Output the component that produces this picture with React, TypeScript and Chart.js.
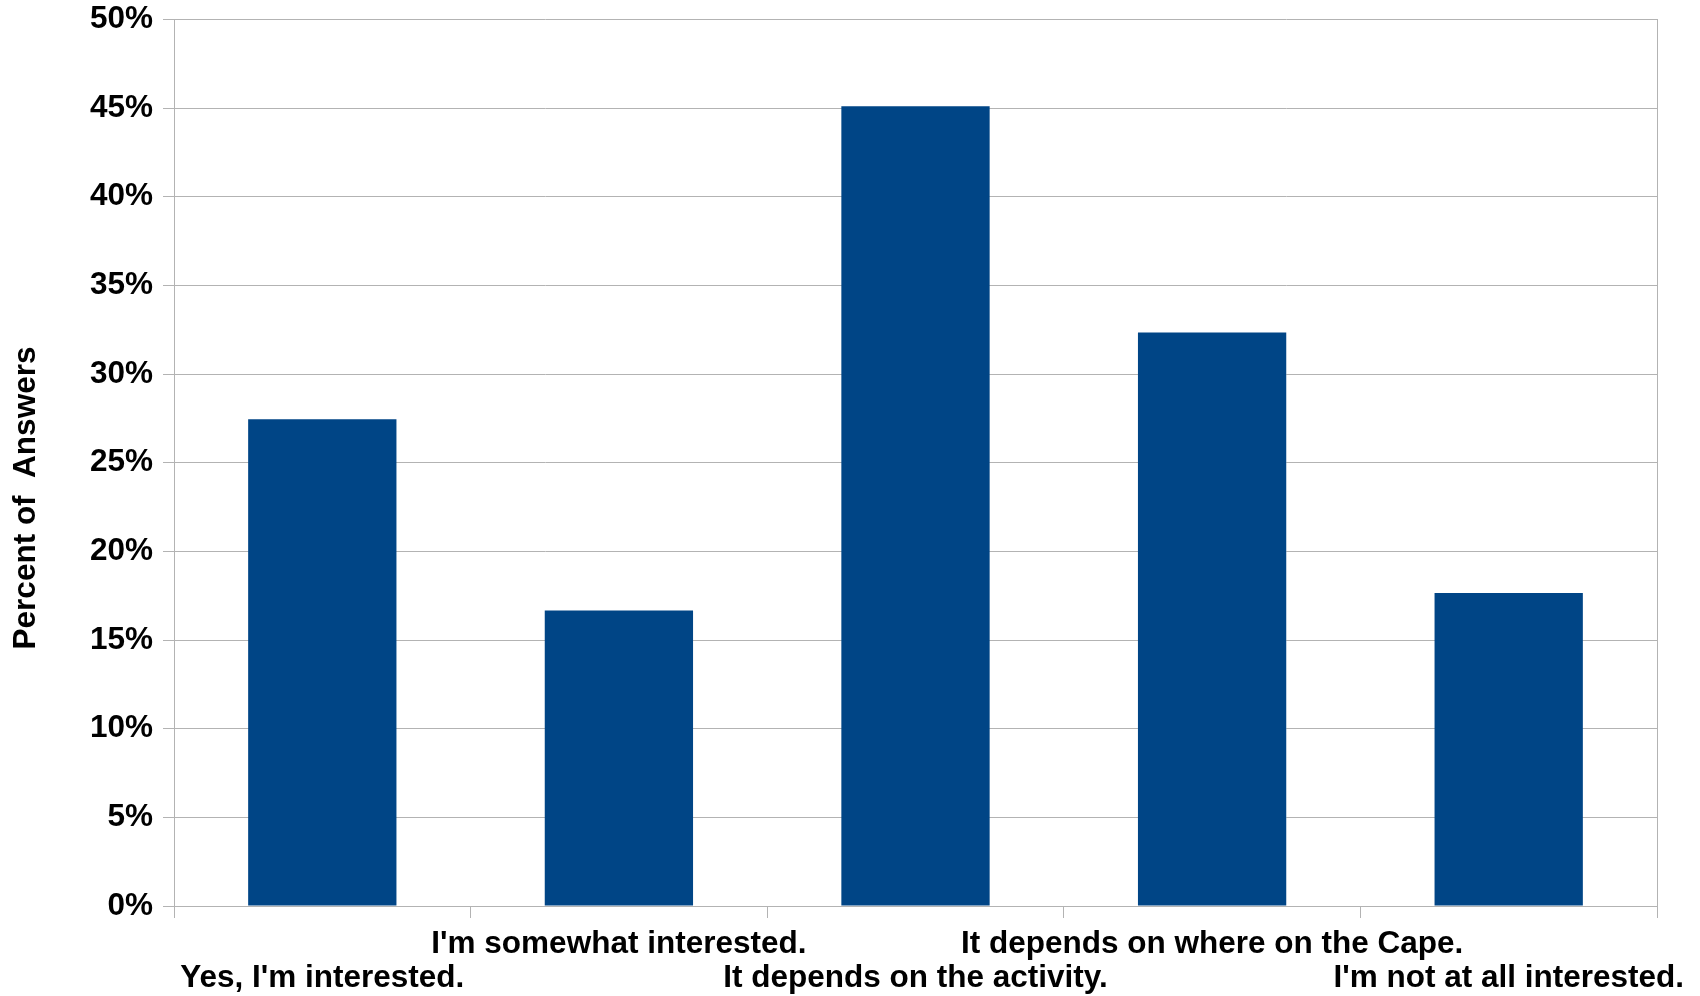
import { useEffect, useRef } from 'react';
import { Chart, registerables } from 'chart.js';

Chart.register(...registerables);

const categories = [
  "Yes, I'm interested.",
  "I'm somewhat interested.",
  "It depends on the activity.",
  "It depends on where on the Cape.",
  "I'm not at all interested.",
];
const percentOfAnswers = [27.45, 16.67, 45.1, 32.35, 17.65];
const yMin = 0;
const yMax = 50;
const yStep = 5;
const yAxisTitle = 'Percent of  Answers';

const FONT = '"Liberation Sans", Arial, sans-serif';
const GRID = '#b3b3b3';
const BAR = '#004586';

const yTitlePlugin = {
  id: 'yTitleCentered',
  afterDraw(chart: any) {
    const ctx = chart.ctx;
    ctx.save();
    ctx.translate(26, chart.height / 2);
    ctx.rotate(-Math.PI / 2);
    ctx.font = `bold 31.5px ${FONT}`;
    ctx.fillStyle = '#000';
    ctx.textAlign = 'center';
    ctx.textBaseline = 'middle';
    ctx.fillText(yAxisTitle, 0, 0);
    ctx.restore();
  },
};

export default function App() {
  const ref = useRef<HTMLCanvasElement | null>(null);
  useEffect(() => {
    if (!ref.current) return;
    const chart = new Chart(ref.current, {
      type: 'bar',
      data: {
        labels: categories,
        datasets: [
          {
            data: percentOfAnswers,
            backgroundColor: BAR,
            borderWidth: 0,
            barPercentage: 0.5,
            categoryPercentage: 1,
          },
        ],
      },
      options: {
        responsive: false,
        animation: false,
        devicePixelRatio: 1,
        layout: { padding: { top: 19, right: 43, left: 0, bottom: 0 } },
        plugins: { legend: { display: false }, tooltip: { enabled: false }, title: { display: false } },
        scales: {
          x: {
            grid: {
              display: true,
              drawOnChartArea: false,
              offset: true,
              tickLength: 12,
              color: GRID,
              lineWidth: 1,
            },
            border: { display: true, color: GRID },
            ticks: {
              autoSkip: false,
              maxRotation: 0,
              minRotation: 0,
              color: '#000',
              padding: 10,
              font: { family: FONT, size: 31.5, weight: 'bold', lineHeight: 1.06 },
              callback: (_v: any, i: number) =>
                i % 2 === 1 ? [categories[i], ''] : ['', categories[i]],
            },
            afterFit: (s: any) => {
              s.height = 90;
            },
          },
          y: {
            min: yMin,
            max: yMax,
            grid: { color: GRID, tickLength: 11, lineWidth: 1 },
            border: { display: true, color: GRID },
            ticks: {
              stepSize: yStep,
              color: '#000',
              padding: 10,
              font: { family: FONT, size: 31.5, weight: 'bold', lineHeight: 0.6 },
              callback: (v: any) => v + '%',
            },
            afterFit: (s: any) => {
              s.width = 174;
            },
          },
          yRight: {
            position: 'right',
            display: true,
            grid: { drawOnChartArea: false, drawTicks: false },
            ticks: { display: false },
            border: { display: true, color: GRID },
            afterFit: (s: any) => {
              s.width = 0;
            },
          },
        },
      },
      plugins: [yTitlePlugin],
    } as any);
    return () => chart.destroy();
  }, []);
  return (
    <div style={{ position: 'absolute', left: 0, top: 0, width: 1700, height: 996, background: '#fff' }}>
      <canvas ref={ref} width={1700} height={996} />
    </div>
  );
}
